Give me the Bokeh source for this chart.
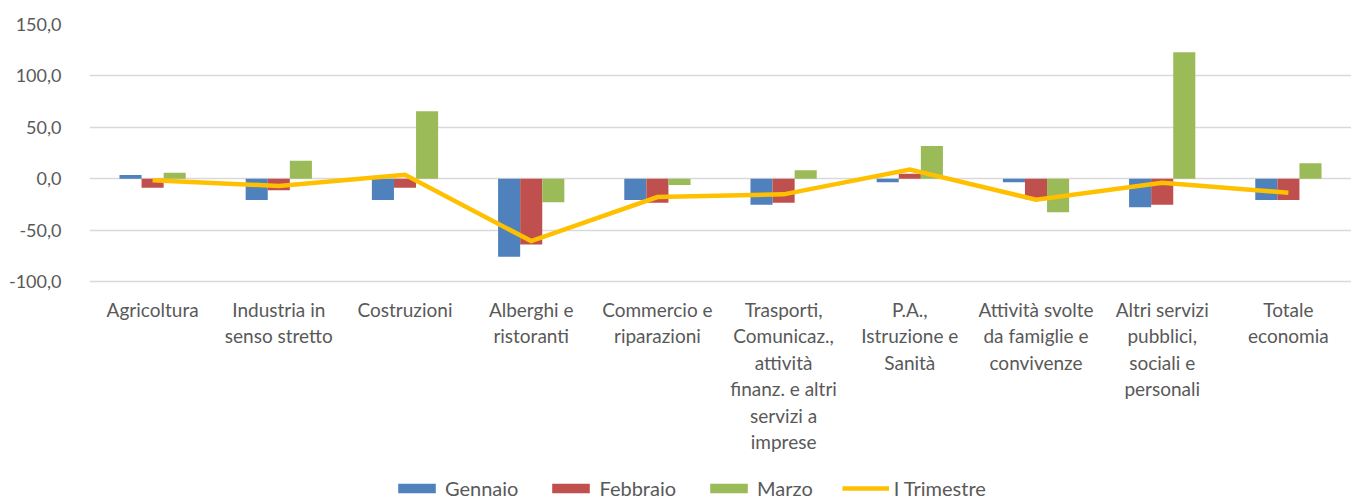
from bokeh.plotting import figure
from bokeh.models import (ColumnDataSource, FactorRange, FixedTicker, Legend, LegendItem,
                          CategoricalAxis)
from bokeh.transform import dodge
from bokeh.embed import file_html
from bokeh.resources import INLINE

categories = [
    "Agricoltura",
    "Industria in\nsenso stretto",
    "Costruzioni",
    "Alberghi e\nristoranti",
    "Commercio e\nriparazioni",
    "Trasporti,\nComunicaz.,\nattività\nfinanz. e altri\nservizi a\nimprese",
    "P.A.,\nIstruzione e\nSanità",
    "Attività svolte\nda famiglie e\nconvivenze",
    "Altri servizi\npubblici,\nsociali e\npersonali",
    "Totale\neconomia",
]
gennaio = [3.6, -20.7, -20.7, -76.0, -20.7, -25.3, -3.5, -3.5, -27.8, -20.7]
febbraio = [-8.8, -11.3, -8.8, -64.0, -23.4, -23.4, 4.9, -20.0, -25.3, -20.7]
marzo = [5.8, 17.5, 65.6, -23.0, -6.1, 8.2, 31.8, -32.7, 123.0, 15.0]
trimestre = [-1.6, -7.0, 3.9, -60.7, -17.8, -15.2, 8.8, -20.4, -3.9, -13.6]

y_ticks = [-100, -50, 0, 50, 100, 150]
y_tick_labels = ["-100,0", "-50,0", "0,0", "50,0", "100,0", "150,0"]
y_min, y_max = -100, 150

series_names = ["Gennaio", "Febbraio", "Marzo", "I Trimestre"]
colors = ["#4F81BD", "#C0504D", "#9BBB59", "#FFC000"]

src = ColumnDataSource(dict(cat=categories, g=gennaio, f=febbraio, m=marzo, t=trimestre))

FONT = "Lato"
TXT = "#595959"

# the frame is extended below the value axis so that category labels and legend sit inside it
p = figure(
    x_range=FactorRange(factors=categories, range_padding=0),
    y_range=(-313, y_max),
    frame_width=1262, frame_height=476,
    x_axis_location=None,
    output_backend="svg", toolbar_location=None,
    min_border_left=89, min_border_top=24, min_border_right=0, min_border_bottom=0,
)
p.outline_line_color = None
p.background_fill_color = "white"
p.border_fill_color = "white"

bw = 0.175
r1 = p.vbar(x=dodge("cat", -bw, range=p.x_range), top="g", bottom=0, width=bw, source=src,
            fill_color=colors[0], line_color=None)
r2 = p.vbar(x=dodge("cat", 0, range=p.x_range), top="f", bottom=0, width=bw, source=src,
            fill_color=colors[1], line_color=None)
r3 = p.vbar(x=dodge("cat", bw, range=p.x_range), top="m", bottom=0, width=bw, source=src,
            fill_color=colors[2], line_color=None)
r4 = p.line(x="cat", y="t", source=src, line_color=colors[3], line_width=4.5, line_join="miter")

p.yaxis.ticker = FixedTicker(ticks=y_ticks)
p.yaxis.major_label_overrides = {t: l for t, l in zip(y_ticks, y_tick_labels)}
p.yaxis.axis_line_color = None
p.yaxis.major_tick_line_color = None
p.yaxis.minor_tick_line_color = None
p.yaxis.major_label_text_font = FONT
p.yaxis.major_label_text_font_size = "18px"
p.yaxis.major_label_text_color = TXT
p.yaxis.major_label_standoff = 22

xa = CategoricalAxis(
    fixed_location=y_min,
    axis_line_color=None,
    major_tick_line_color=None,
    minor_tick_line_color=None,
    major_label_text_font=FONT,
    major_label_text_font_size="19px",
    major_label_text_color=TXT,
    major_label_text_line_height=1.155,
    major_label_standoff=10,
    major_label_orientation="horizontal",
)
p.add_layout(xa, "below")

for g in p.xgrid:
    g.visible = False
    g.grid_line_color = None
p.ygrid.grid_line_color = "#D9D9D9"
p.ygrid.grid_line_width = 1.5

legend = Legend(
    items=[LegendItem(label=n, renderers=[r]) for n, r in zip(series_names, [r1, r2, r3, r4])],
    orientation="horizontal",
    location=(304, 0),
    label_text_font=FONT,
    label_text_font_size="20px",
    label_text_color=TXT,
    glyph_width=47, glyph_height=12,
    label_standoff=5, spacing=29,
    border_line_color=None, background_fill_alpha=0,
    padding=0, margin=0,
)
p.add_layout(legend, "center")

open("out.html", "w").write(file_html(p, INLINE))
